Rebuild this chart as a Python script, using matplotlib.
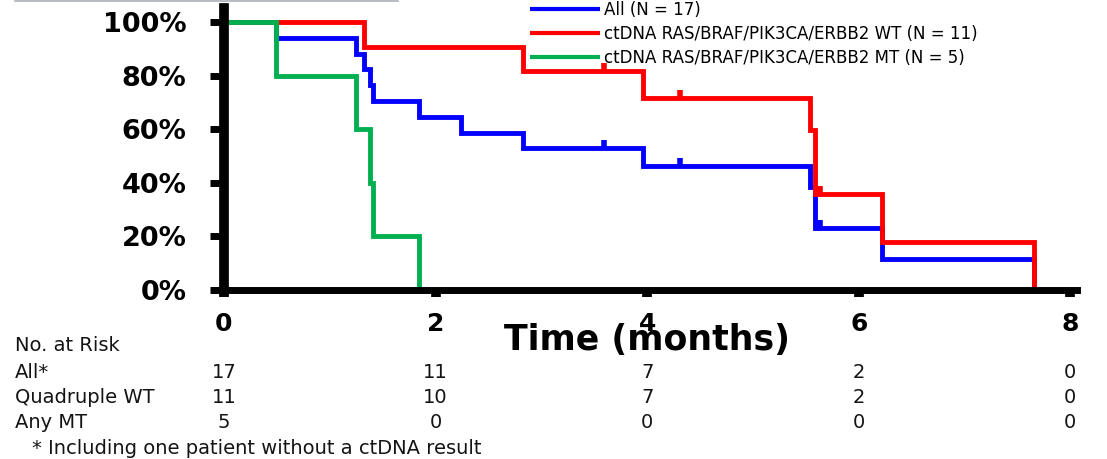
import matplotlib
matplotlib.use("Agg")
import matplotlib.pyplot as plt
import matplotlib.transforms as mtransforms
from matplotlib.lines import Line2D

plt.rcParams['font.family'] = ['DejaVu Sans']

# Kaplan-Meier step curves (time in months, survival in %)
months_all = [0, 0.49, 1.25, 1.32, 1.38, 1.41, 1.84, 2.24, 2.83, 3.96, 5.54, 5.59, 6.22, 7.66]
surv_all = [100, 94.1, 88.2, 82.4, 76.5, 70.6, 64.7, 58.8, 52.9, 46.3, 38.6, 23.2, 11.6, 0]

months_wt = [0, 1.32, 2.83, 3.96, 5.54, 5.59, 6.22, 7.66]
surv_wt = [100, 90.9, 81.8, 71.6, 59.7, 35.8, 17.9, 0]

months_mt = [0, 0.49, 1.25, 1.38, 1.41, 1.84]
surv_mt = [100, 80, 60, 40, 20, 0]

# censored observations
censor_months = [3.59, 4.31, 5.63]
censor_all = [52.9, 46.3, 23.2]
censor_wt = [81.8, 71.6, 35.8]

series_labels = ["All (N = 17)",
                 "ctDNA RAS/BRAF/PIK3CA/ERBB2 WT (N = 11)",
                 "ctDNA RAS/BRAF/PIK3CA/ERBB2 MT (N = 5)"]
series_colors = ["#0000FF", "#FF0000", "#00B050"]

x_ticks = [0, 2, 4, 6, 8]
x_tick_labels = ["0", "2", "4", "6", "8"]
y_ticks = [0, 20, 40, 60, 80, 100]
y_tick_labels = ["0%", "20%", "40%", "60%", "80%", "100%"]

risk_title = "No. at Risk"
risk_rows = ["All*", "Quadruple WT", "Any MT"]
risk_all = [17, 11, 7, 2, 0]
risk_wt = [11, 10, 7, 2, 0]
risk_mt = [5, 0, 0, 0, 0]
footnote = "* Including one patient without a ctDNA result"

W, H = 1107, 459
fig = plt.figure(figsize=(W / 100, H / 100), dpi=100)
ax = fig.add_axes([224 / W, 1 - 290 / H, 852.7 / W, 282 / H])
ax.set_xlim(0, 8.06)
ax.set_ylim(0, 105.3)

lw = 3.5
kw = dict(where="post", linewidth=lw, solid_capstyle="butt", solid_joinstyle="miter")
h_all, = ax.step(months_all, surv_all, color=series_colors[0], zorder=2.0, **kw)
h_wt, = ax.step(months_wt, surv_wt, color=series_colors[1], zorder=2.1, **kw)
h_mt, = ax.step(months_mt, surv_mt, color=series_colors[2], zorder=2.2, **kw)

mk = dict(linestyle="none", marker=2, markersize=5.5, markeredgewidth=4)
ax.plot(censor_months, censor_all, color=series_colors[0], zorder=2.0, **mk)
ax.plot(censor_months, censor_wt, color=series_colors[1], zorder=2.1, **mk)

for side in ("top", "right"):
    ax.spines[side].set_visible(False)
ax.spines["left"].set_linewidth(7)
ax.spines["bottom"].set_linewidth(5)
for side in ("left", "bottom"):
    ax.spines[side].set_capstyle("projecting")
    ax.spines[side].set_zorder(3)

ax.set_xticks(x_ticks, x_tick_labels, fontsize=18, fontweight="bold")
ax.set_yticks(y_ticks, y_tick_labels, fontsize=19.5, fontweight="bold")
ax.tick_params(axis="x", direction="out", length=5, width=7, pad=10.5, color="black")
ax.tick_params(axis="y", direction="out", length=10, width=5, pad=17, color="black")

leg = ax.legend([h_all, h_wt, h_mt], series_labels, loc="upper left",
                bbox_to_anchor=(530 / W, 1 - 1 / H), bbox_transform=fig.transFigure,
                frameon=False, fontsize=12, handlelength=4.2, handletextpad=0.25,
                labelspacing=0.36, borderpad=0, borderaxespad=0)
for line in leg.get_lines():
    line.set_linewidth(3)

blend = mtransforms.blended_transform_factory(ax.transData, fig.transFigure)
ax.text(4, 1 - 350 / H, "Time (months)", transform=blend, ha="center",
        va="baseline", fontsize=25, fontweight="bold")

txt = "#141414"
fs = 14
fig.text(15 / W, 1 - 351 / H, risk_title, fontsize=fs, va="baseline", color=txt)
row_base = [378, 403, 428]
for label, counts, yb in zip(risk_rows, [risk_all, risk_wt, risk_mt], row_base):
    fig.text(15 / W, 1 - yb / H, label, fontsize=fs, va="baseline", color=txt)
    for xm, n in zip(x_ticks, counts):
        ax.text(xm, 1 - yb / H, str(n), transform=blend, ha="center",
                va="baseline", fontsize=fs, color=txt)
fig.text(32 / W, 1 - 454 / H, footnote, fontsize=fs, va="baseline", color=txt)

# thin rule along the top edge
fig.add_artist(Line2D([15 / W, 398 / W], [1 - 1 / H, 1 - 1 / H],
                      transform=fig.transFigure, color="#aab0b8", linewidth=1.2))

fig.savefig("out.png", dpi=100)
